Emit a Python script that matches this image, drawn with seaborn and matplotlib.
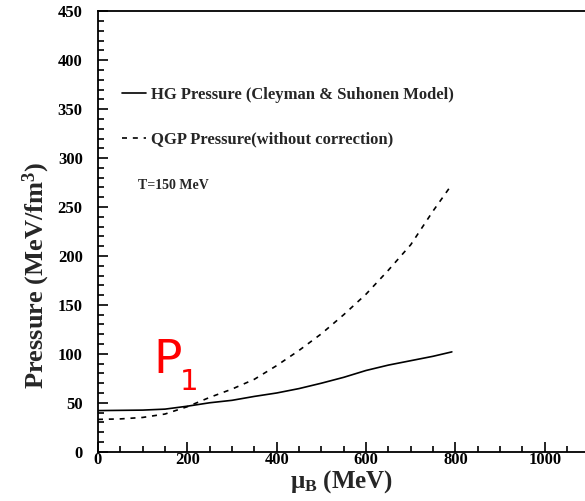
import matplotlib
matplotlib.use("Agg")
import matplotlib.pyplot as plt
import seaborn as sns
import pandas as pd
from matplotlib.ticker import MultipleLocator

# ---- data ----
hg_mu = [0, 100, 150, 200, 250, 300, 350, 400, 450, 500, 550, 600, 650, 700, 750, 792]
hg_p = [42, 42.5, 43.5, 46.5, 50, 52.5, 56.5, 60, 64.5, 70, 76, 83, 88.5, 93, 97.5, 102]

qgp_mu = [0, 50, 100, 150, 200, 250, 300, 350, 400, 450, 500, 550, 600, 650, 700, 750, 792]
qgp_p = [33, 33.5, 35, 38.5, 46, 55.5, 64, 74, 88, 103.5, 120.5, 140, 161, 185.5, 211.5, 246, 273]

hg_label = "HG Pressure (Cleyman & Suhonen Model)"
qgp_label = "QGP Pressure(without correction)"
temp_label = "T=150 MeV"
xlabel = r"μ$_{\mathbf{B}}$ (MeV)"
ylabel = r"Pressure (MeV/fm$^{3}$)"

sns.set_theme(style="ticks")
plt.rcParams["font.family"] = ["Liberation Serif", "DejaVu Serif"]
plt.rcParams["font.weight"] = "bold"
plt.rcParams["mathtext.fontset"] = "custom"
plt.rcParams["mathtext.rm"] = "Liberation Serif:bold"
plt.rcParams["mathtext.bf"] = "Liberation Serif:bold"
plt.rcParams["mathtext.it"] = "Liberation Serif:bold"

fig = plt.figure(figsize=(5.85, 5.01), dpi=100)
ax = fig.add_axes([98 / 585, 49.3 / 501, 487 / 585, 440.4 / 501])

df_hg = pd.DataFrame({"mu": hg_mu, "p": hg_p})
df_qgp = pd.DataFrame({"mu": qgp_mu, "p": qgp_p})
sns.lineplot(data=df_hg, x="mu", y="p", ax=ax, color="black", lw=1.2, label=hg_label)
sns.lineplot(data=df_qgp, x="mu", y="p", ax=ax, color="black", lw=1.2,
             linestyle=(0, (3.0, 3.5)), label=qgp_label)

ax.set_xlim(0, 1090)
ax.set_ylim(0, 450)
ax.xaxis.set_major_locator(MultipleLocator(200))
ax.xaxis.set_minor_locator(MultipleLocator(50))
ax.yaxis.set_major_locator(MultipleLocator(50))
ax.yaxis.set_minor_locator(MultipleLocator(10))
ax.tick_params(which="both", direction="in", width=1.2, labelsize=12, colors="black")
ax.tick_params(which="major", length=7)
ax.tick_params(which="minor", length=4)
ax.tick_params(axis="x", which="both", pad=0.5)
ax.tick_params(axis="y", which="both", pad=11)
for lab in ax.get_xticklabels() + ax.get_yticklabels():
    lab.set_fontweight("bold")
for s in ["left", "bottom", "top"]:
    ax.spines[s].set_linewidth(1.3)
    ax.spines[s].set_color("black")
ax.spines["right"].set_visible(False)

ax.set_xlabel(xlabel, fontsize=18, fontweight="bold", labelpad=0)
ax.set_ylabel(ylabel, fontsize=19, fontweight="bold")
ax.yaxis.set_label_coords(-0.094, 0.40)

leg = ax.legend(loc="upper left", bbox_to_anchor=(0.019, 0.862), frameon=False,
                prop={"family": "Liberation Serif", "weight": "bold", "size": 12},
                handlelength=1.4, handletextpad=0.3, labelspacing=1.71)

ax.text(90, 272, temp_label, fontsize=10, fontweight="bold", va="center", ha="left")

ax.text(123, 80.5, "P", fontsize=34, color="#ff0000", family="DejaVu Sans",
        fontweight="normal", va="baseline", ha="left")
ax.text(183, 63, "1", fontsize=21, color="#ff0000", family="DejaVu Sans",
        fontweight="normal", va="baseline", ha="left")

fig.savefig("out.png", dpi=100)
